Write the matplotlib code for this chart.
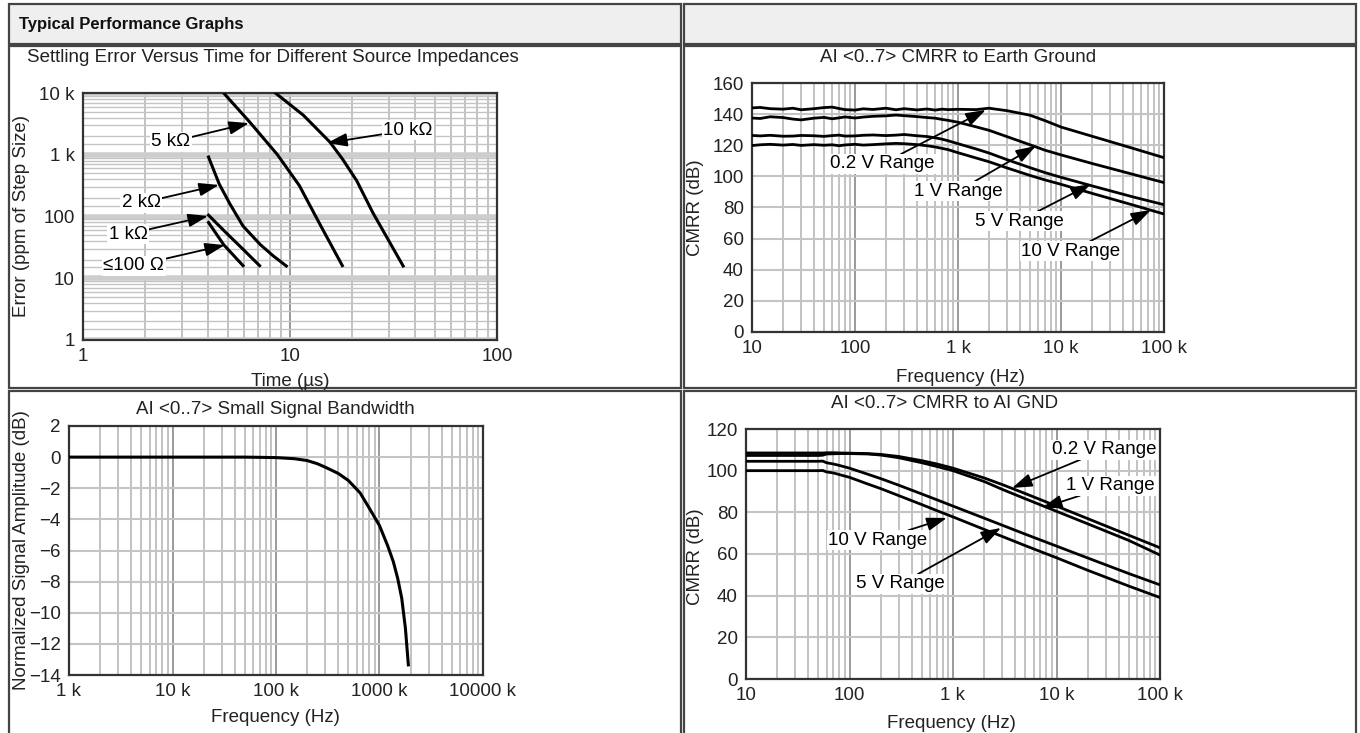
import numpy as np
import matplotlib
matplotlib.use("Agg")
from matplotlib import pyplot as plt
from matplotlib.patches import Rectangle
from matplotlib.ticker import LogLocator, NullFormatter

plt.rcParams['font.family'] = ['Liberation Sans', 'DejaVu Sans']

# settling error vs time (us, ppm)
t_10k = [8.5, 11.6, 15.6, 17.9, 21.0, 25.1, 35.2]
e_10k = [10000, 4370, 1600, 860, 380, 116, 15.8]
t_5k = [4.78, 6.38, 8.7, 11.1, 14.1, 17.9]
e_5k = [10000, 3400, 1000, 316, 70, 16]
t_2k = [4.04, 4.55, 5.13, 5.93, 7.19, 8.3, 9.6]
e_2k = [920, 336, 159, 70, 35, 23, 15.8]
t_1k = [4.04, 4.9, 5.93, 7.13]
e_1k = [105, 55, 29.5, 16]
t_100 = [4.04, 4.78, 5.93]
e_100 = [80, 35, 16]

# CMRR to earth ground (Hz, dB)
f_earth = [10, 12, 15, 20, 25, 30, 40, 50, 60, 70, 80, 100, 120, 150, 200, 250, 300,
           400, 500, 600, 700, 800, 1000, 1500, 2000, 3000, 5000, 7000, 10000,
           20000, 50000, 100000]
earth_02v = [144.0, 144.3, 143.5, 143.2, 143.8, 142.8, 143.5, 144.2, 144.5, 143.6,
             142.9, 142.6, 143.4, 143.0, 143.8, 142.8, 143.5, 142.7, 143.3, 142.6,
             143.2, 142.9, 143.1, 142.9, 143.8, 142.2, 139.3, 135.8, 131.7, 125.8,
             118.0, 112.0]
earth_1v = [137.5, 137.2, 138.3, 137.8, 136.8, 136.3, 137.4, 137.9, 137.0, 137.6,
            138.2, 137.5, 138.1, 138.6, 138.9, 139.4, 139.0, 138.4, 137.8, 137.4,
            136.6, 136.0, 134.8, 131.8, 129.6, 125.5, 120.3, 116.8, 113.8, 108.3,
            101.3, 96.0]
earth_5v = [126.3, 126.0, 126.4, 125.8, 125.9, 126.3, 126.1, 125.7, 126.2, 126.5,
            125.9, 126.0, 126.4, 126.6, 126.2, 126.5, 126.9, 126.1, 125.6, 124.8,
            123.9, 122.9, 121.0, 117.6, 115.0, 110.7, 105.6, 102.4, 99.4, 93.9,
            86.8, 81.8]
earth_10v = [119.8, 120.3, 120.6, 120.1, 120.5, 119.9, 120.4, 120.0, 120.3, 119.7,
             120.2, 120.6, 120.1, 120.4, 120.9, 121.2, 121.0, 120.4, 119.7, 118.9,
             118.0, 117.2, 115.2, 111.8, 109.4, 105.4, 100.6, 97.7, 94.9, 89.1,
             81.6, 75.8]

# small signal bandwidth (kHz, dB)
f_bw = [1, 10, 50, 100, 150, 200, 250, 300, 400, 500, 650, 800, 1000, 1200, 1360,
        1500, 1640, 1780, 1900]
amp_bw = [0, 0, 0, -0.03, -0.1, -0.22, -0.42, -0.65, -1.05, -1.5, -2.3, -3.3, -4.4,
          -5.7, -6.72, -7.8, -9.07, -11.0, -13.35]

# CMRR to AI GND (Hz, dB)
f_gnd = [10, 20, 30, 40, 50, 55, 60, 70, 80, 100, 150, 200, 300, 500, 700, 1000,
         2000, 3000, 5000, 10000, 20000, 50000, 100000]
gnd_02v = [108.5, 108.5, 108.5, 108.5, 108.5, 108.5, 108.6, 108.6, 108.5, 108.4,
           108.2, 107.8, 106.8, 104.8, 103.2, 101.2, 96.5, 93.3, 89.0, 83.0, 77.0,
           69.0, 63.0]
gnd_1v = [107.3, 107.3, 107.3, 107.3, 107.3, 107.4, 108.0, 108.1, 108.2, 108.2,
          108.0, 107.5, 106.2, 103.8, 102.0, 100.0, 94.8, 91.0, 86.5, 80.5, 74.5,
          66.5, 59.5]
gnd_5v = [104.5, 104.5, 104.5, 104.5, 104.5, 104.6, 103.8, 103.2, 102.5, 101.2,
          98.3, 96.2, 93.0, 88.8, 86.0, 83.0, 77.2, 73.8, 69.5, 63.8, 58.1, 50.6,
          45.2]
gnd_10v = [100.0, 100.0, 100.0, 100.0, 100.0, 100.1, 99.4, 98.9, 98.1, 96.8, 93.6,
           91.4, 88.0, 83.7, 80.8, 77.8, 71.8, 68.4, 64.0, 58.2, 52.2, 44.6, 39.1]

W, H = 1360, 733
FS = 13.5
fig = plt.figure(figsize=(W / 100, H / 100), dpi=100)

bg = fig.add_axes([0, 0, 1, 1])
bg.set_xlim(0, W)
bg.set_ylim(H, 0)
bg.axis('off')

# table cells
for (x0, y0, x1, y1, fc) in [(9, 4, 681, 44, '#efefef'), (684, 4, 1356, 44, '#efefef'),
                             (9, 46, 681, 388, 'white'), (684, 46, 1356, 388, 'white'),
                             (9, 391, 681, 745, 'white'), (684, 391, 1356, 745, 'white')]:
    bg.add_patch(Rectangle((x0, y0), x1 - x0, y1 - y0, fc=fc, ec='#444444', lw=1.6))
bg.text(19, 24, 'Typical Performance Graphs', fontsize=12, fontweight='bold',
        va='center', ha='left', color='#111111')


def make_ax(l, t, r, b):
    return fig.add_axes([l / W, 1 - b / H, (r - l) / W, (b - t) / H])


def style(ax):
    for s in ax.spines.values():
        s.set_color('#333333')
        s.set_linewidth(1.6)
    ax.tick_params(which='both', length=0, labelsize=FS, colors='#222222', pad=6)
    ax.set_axisbelow(True)


def log_x_grid(ax):
    ax.xaxis.set_minor_locator(LogLocator(base=10, subs=range(2, 10)))
    ax.xaxis.set_minor_formatter(NullFormatter())
    ax.grid(True, axis='x', which='minor', color='#b8b8b8', lw=1.2)
    ax.grid(True, axis='x', which='major', color='#9a9a9a', lw=1.4)


arrow = dict(arrowstyle='-|>,head_length=0.9,head_width=0.3', color='black', lw=1.3,
             shrinkA=0, shrinkB=0)
box = dict(fc='white', ec='none', pad=1)


def label(ax, txt, tip, pos):
    ax.annotate(txt, xy=tip, xytext=pos, ha='center', va='center', fontsize=FS,
                bbox=box, arrowprops=arrow, zorder=5)


def fig_text(x, y, txt, rot=0):
    bg.text(x, y, txt, fontsize=FS, ha='center', va='center', rotation=rot,
            color='#222222')


# ---- settling error ----
ax1 = make_ax(83, 93, 497, 340)
ax1.set_xscale('log')
ax1.set_yscale('log')
ax1.set_xlim(1, 100)
ax1.set_ylim(1, 10000)
log_x_grid(ax1)
ax1.yaxis.set_minor_locator(LogLocator(base=10, subs=[1.5, 2, 3, 4, 5, 6, 7, 8, 9]))
ax1.yaxis.set_minor_formatter(NullFormatter())
ax1.grid(True, axis='y', which='minor', color='#c4c4c4', lw=1.0)
ax1.grid(True, axis='y', which='major', color='#cdcdcd', lw=4)
ax1.set_xticks([1, 10, 100], ['1', '10', '100'])
ax1.set_yticks([1, 10, 100, 1000, 10000], ['1', '10', '100', '1 k', '10 k'])
for t, e in [(t_10k, e_10k), (t_5k, e_5k), (t_2k, e_2k), (t_1k, e_1k), (t_100, e_100)]:
    ax1.plot(t, e, color='black', lw=2.2, zorder=3)
style(ax1)
label(ax1, '5 k\u03a9', (6.34, 3250), (2.66, 1610))
label(ax1, '10 k\u03a9', (15.1, 1550), (37.2, 2500))
label(ax1, '2 k\u03a9', (4.54, 324), (1.91, 166))
label(ax1, '1 k\u03a9', (4.02, 102), (1.65, 52))
label(ax1, '\u2264100 \u03a9', (4.85, 34.5), (1.76, 15.8))
fig_text(273, 58, 'Settling Error Versus Time for Different Source Impedances')
fig_text(290, 381, 'Time (\u00b5s)')
fig_text(22, 216, 'Error (ppm of Step Size)', 90)

# ---- CMRR to earth ground ----
ax2 = make_ax(752, 83, 1164, 332)
ax2.set_xscale('log')
ax2.set_xlim(10, 100000)
ax2.set_ylim(0, 160)
log_x_grid(ax2)
ax2.grid(True, axis='y', which='major', color='#c4c4c4', lw=1.5)
ax2.set_xticks([10, 100, 1000, 10000, 100000], ['10', '100', '1 k', '10 k', '100 k'])
ax2.set_yticks(range(0, 161, 20))
for v in [earth_02v, earth_1v, earth_5v, earth_10v]:
    ax2.plot(f_earth, v, color='black', lw=2.0, zorder=3)
style(ax2)
label(ax2, '0.2 V Range', (1860, 142.7), (183, 108))
label(ax2, '1 V Range', (5710, 119.5), (1000, 90.6))
label(ax2, '5 V Range', (19500, 95), (3900, 71.3))
label(ax2, '10 V Range', (74800, 78.4), (12500, 52))
fig_text(958, 58, 'AI <0..7> CMRR to Earth Ground')
fig_text(960, 378, 'Frequency (Hz)')
fig_text(695, 208, 'CMRR (dB)', 90)

# ---- small signal bandwidth ----
ax3 = make_ax(69, 426, 483, 675)
ax3.set_xscale('log')
ax3.set_xlim(1, 10000)
ax3.set_ylim(-14, 2)
log_x_grid(ax3)
ax3.grid(True, axis='y', which='major', color='#c4c4c4', lw=1.5)
ax3.set_xticks([1, 10, 100, 1000, 10000], ['1 k', '10 k', '100 k', '1000 k', '10000 k'])
ax3.set_yticks(range(-14, 3, 2),
               [str(v).replace('-', '\u2212') for v in range(-14, 3, 2)])
ax3.plot(f_bw, amp_bw, color='black', lw=2.2, zorder=3)
style(ax3)
fig_text(275, 409, 'AI <0..7> Small Signal Bandwidth')
fig_text(275, 717, 'Frequency (Hz)')
fig_text(22, 550, 'Normalized Signal Amplitude (dB)', 90)

# ---- CMRR to AI GND ----
ax4 = make_ax(746, 429, 1160, 679)
ax4.set_xscale('log')
ax4.set_xlim(10, 100000)
ax4.set_ylim(0, 120)
log_x_grid(ax4)
ax4.grid(True, axis='y', which='major', color='#c4c4c4', lw=1.5)
ax4.set_xticks([10, 100, 1000, 10000, 100000], ['10', '100', '1 k', '10 k', '100 k'])
ax4.set_yticks(range(0, 121, 20))
for v in [gnd_02v, gnd_1v, gnd_5v, gnd_10v]:
    ax4.plot(f_gnd, v, color='black', lw=2.0, zorder=3)
style(ax4)
label(ax4, '0.2 V Range', (3720, 91.7), (28800, 110))
label(ax4, '1 V Range', (7240, 82.1), (32900, 92.7))
label(ax4, '10 V Range', (870, 77.3), (188, 66.7))
label(ax4, '5 V Range', (2910, 72.5), (308, 45.6))
fig_text(945, 404, 'AI <0..7> CMRR to AI GND')
fig_text(951, 723, 'Frequency (Hz)')
fig_text(695, 557, 'CMRR (dB)', 90)

fig.savefig('out.png', dpi=100)
